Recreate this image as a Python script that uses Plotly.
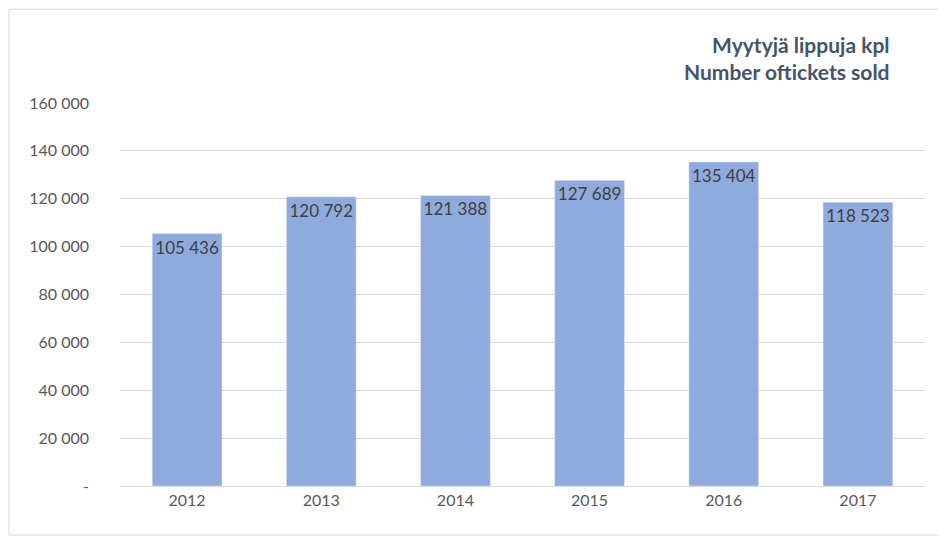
import plotly.graph_objects as go

years = ["2012", "2013", "2014", "2015", "2016", "2017"]
tickets = [105436, 120792, 121388, 127689, 135404, 118523]
y_ticks = [0, 20000, 40000, 60000, 80000, 100000, 120000, 140000, 160000]


def fmt(v):
    return "-" if v == 0 else f"{v:,}".replace(",", " ")


fig = go.Figure()
fig.add_trace(go.Bar(
    x=years, y=tickets,
    marker_color="#8faadc",
    width=0.52,
    text=[fmt(v) for v in tickets],
    textposition="inside",
    insidetextanchor="end",
    textfont=dict(size=17, color="#404040", family="Lato"),
))

fig.update_layout(
    width=947, height=536,
    margin=dict(l=112, r=30, t=95, b=58),
    paper_bgcolor="white", plot_bgcolor="white",
    showlegend=False,
    font=dict(family="Lato", color="#595959", size=16),
    annotations=[dict(
        text="<b>Myytyjä lippuja kpl<br>Number oftickets sold</b>",
        xref="paper", yref="paper", x=0.959, y=1.19,
        xanchor="right", yanchor="top", showarrow=False, align="right",
        font=dict(size=21, color="#44546a", family="Lato"),
    )],
    shapes=[dict(type="rect", xref="paper", yref="paper",
                 x0=-0.138, x1=1.026, y0=-0.128, y1=1.245,
                 line=dict(color="#d9d9d9", width=1))],
)
fig.update_yaxes(range=[0, 160000], tickvals=y_ticks,
                 ticktext=[fmt(v) for v in y_ticks],
                 gridcolor="#d9d9d9", zeroline=False, ticklabelstandoff=30)
fig.update_xaxes(showline=True, linecolor="#d9d9d9", ticks="")

fig.write_html("out.html")
